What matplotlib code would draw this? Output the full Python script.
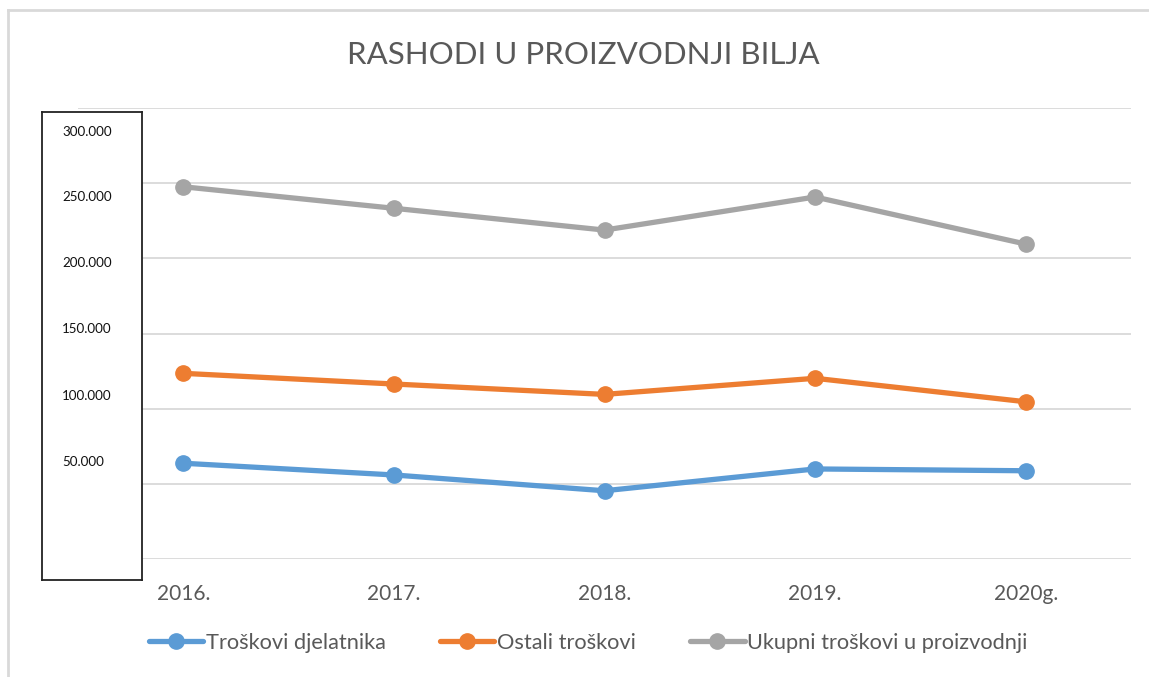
import matplotlib
matplotlib.use("Agg")
import matplotlib.pyplot as plt
from matplotlib.lines import Line2D

years = ["2016.", "2017.", "2018.", "2019.", "2020g."]
djelatnici = [63700, 55900, 45400, 59900, 58700]
ostali = [123500, 116400, 109500, 120200, 104600]
ukupni = [247600, 233300, 218800, 240800, 209500]
series_names = ["Troškovi djelatnika", "Ostali troškovi", "Ukupni troškovi u proizvodnji"]
y_ticks = [0, 50000, 100000, 150000, 200000, 250000, 300000]
box_labels = ["300.000", "250.000", "200.000", "150.000", "100.000", "50.000"]

W, H = 1149, 677
plt.rcParams['font.family'] = ['Lato', 'DejaVu Sans']
fig = plt.figure(figsize=(W / 100, H / 100), dpi=100)

def fx(px):
    return px / W

def fy(py):
    return 1 - py / H

ax = fig.add_axes([fx(78), fy(559), fx(1131) - fx(78), fy(108) - fy(559)])
x = list(range(len(years)))
colors = ["#5B9BD5", "#ED7D31", "#A5A5A5"]
for vals, c, name in zip([djelatnici, ostali, ukupni], colors, series_names):
    ax.plot(x, vals, color=c, lw=3.8, marker='o', ms=11, label=name,
            solid_capstyle='round', zorder=3)

ax.set_xlim(-0.5, len(years) - 0.5)
ax.set_ylim(0, 300000)
ax.set_yticks(y_ticks)
ax.set_yticklabels([])
ax.tick_params(axis='y', length=0)
ax.grid(axis='y', color='#D9D9D9', lw=1.3, zorder=0)
ax.set_xticks(x)
ax.set_xticklabels(years, fontsize=15, color='#595959')
ax.tick_params(axis='x', length=0, pad=18)
for s in ax.spines.values():
    s.set_visible(False)

fig.text(fx(583), fy(55), "RASHODI U PROIZVODNJI BILJA", ha='center', va='center',
         fontsize=22.5, color='#595959')

leg = fig.legend(loc='center', bbox_to_anchor=(fx(588), fy(643)), ncol=3,
                 frameon=False, fontsize=15.7, handlelength=2.5, handletextpad=0.1,
                 columnspacing=2.5, labelcolor='#595959')

# box with y-axis labels
bax = fig.add_axes([fx(42), fy(580), fx(142) - fx(42), fy(112) - fy(580)])
bax.set_xlim(0, 100)
bax.set_ylim(580, 112)
bax.set_xticks([])
bax.set_yticks([])
for s in bax.spines.values():
    s.set_color('#222222')
    s.set_linewidth(1.3)
label_y = [132, 197, 263, 329, 396, 462]
for lab, yy in zip(box_labels, label_y):
    bax.text(20, yy, lab, ha='left', va='center', fontsize=9.6, color='#111111')

# chart area border (top and left)
fig.add_artist(Line2D([fx(8), 1], [fy(10), fy(10)], color='#D9D9D9', lw=2))
fig.add_artist(Line2D([fx(8), fx(8)], [0, fy(10)], color='#D9D9D9', lw=2))

fig.savefig("out.png", dpi=100, facecolor='white')
